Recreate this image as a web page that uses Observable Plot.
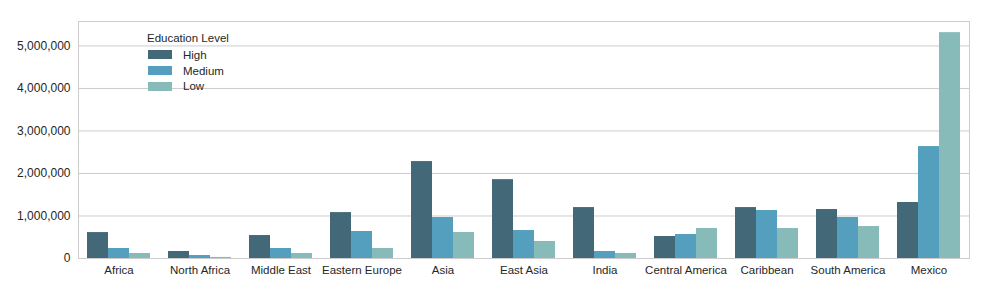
<!DOCTYPE html>
<html>
<head>
<meta charset="utf-8">
<script src="https://cdn.jsdelivr.net/npm/d3@7"></script>
<script src="https://cdn.jsdelivr.net/npm/@observablehq/plot@0.6"></script>
<style>
  body { margin: 0; background: white; }
  #wrap { position: relative; width: 987px; height: 291px; font-family: "Liberation Sans", Arial, sans-serif; color: #262626; }
  #wrap svg g[aria-label^="y-axis"] text { font-size: 12px; }
  #legend { position: absolute; left: 147px; top: 31px; font-size: 11.5px; }
  #legend .title { line-height: 14px; height: 14px; margin-bottom: 2px; }
  #legend .row { display: flex; align-items: center; height: 15.8px; }
  #legend .sw { width: 24px; height: 9px; margin-left: 1px; margin-right: 11px; }
</style>
</head>
<body>
<div id="wrap"></div>
<script>
const regions = ["Africa", "North Africa", "Middle East", "Eastern Europe", "Asia", "East Asia", "India", "Central America", "Caribbean", "South America", "Mexico"];
const levels = ["High", "Medium", "Low"];
const high   = [610000, 165000, 540000, 1080000, 2280000, 1855000, 1198000, 517000, 1198000, 1152000, 1317000];
const medium = [235000, 70000, 235000, 635000, 964000, 658000, 165000, 564000, 1129000, 964000, 2633000];
const low    = [118000, 25000, 118000, 235000, 611000, 400000, 118000, 705000, 705000, 752000, 5313000];
const colors = ["#436877", "#549fbe", "#86bbb9"];
const yTicks = [0, 1000000, 2000000, 3000000, 4000000, 5000000];
const yMax = 5575000;

const series = [high, medium, low];
const data = regions.flatMap((region, i) =>
  levels.map((level, j) => ({ region, level, value: series[j][i] }))
);

const chart = Plot.plot({
  width: 987,
  height: 291,
  marginLeft: 77,
  marginRight: 18,
  marginTop: 21,
  marginBottom: 33,
  style: { fontFamily: "'Liberation Sans', Arial, sans-serif", fontSize: "11.5px", color: "#262626", background: "white" },
  fx: { domain: regions, padding: 0, label: null, axis: "bottom", tickSize: 0, tickPadding: 7 },
  x: { domain: levels, paddingInner: 0, paddingOuter: 0.375, axis: null },
  y: { domain: [0, yMax], ticks: yTicks, tickFormat: d3.format(","), label: null, tickSize: 0, tickPadding: 8 },
  color: { domain: levels, range: colors },
  marks: [
    Plot.ruleY(yTicks, { stroke: "#cccccc", strokeWidth: 1 }),
    Plot.frame({ stroke: "#cccccc", facet: "super" }),
    Plot.barY(data, { fx: "region", x: "level", y: "value", fill: "level" })
  ]
});

const wrap = document.getElementById("wrap");
wrap.appendChild(chart);

const legend = document.createElement("div");
legend.id = "legend";
legend.innerHTML = '<div class="title">Education Level</div>' +
  levels.map((l, i) => `<div class="row"><div class="sw" style="background:${colors[i]}"></div><span>${l}</span></div>`).join("");
wrap.appendChild(legend);
</script>
</body>
</html>
